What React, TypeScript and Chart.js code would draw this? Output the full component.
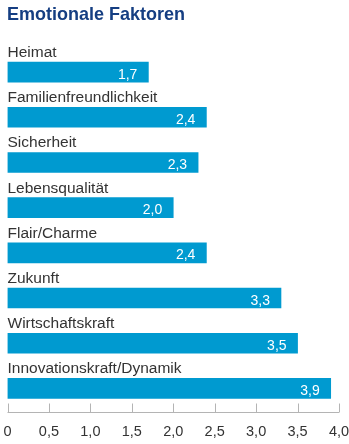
import React, { useEffect, useRef } from "react";
import { Chart, registerables } from "chart.js";

Chart.register(...registerables);

const title = "Emotionale Faktoren";
const categories = [
  "Heimat",
  "Familienfreundlichkeit",
  "Sicherheit",
  "Lebensqualität",
  "Flair/Charme",
  "Zukunft",
  "Wirtschaftskraft",
  "Innovationskraft/Dynamik",
];
const values = [1.7, 2.4, 2.3, 2.0, 2.4, 3.3, 3.5, 3.9];
const tickValues = [0, 0.5, 1, 1.5, 2, 2.5, 3, 3.5, 4];

const BAR_COLOR = "#009ad0";
const TITLE_COLOR = "#153e82";
const TEXT_COLOR = "#333333";
const AXIS_COLOR = "#b4b4b4";
const LABEL_FONT = '"Liberation Sans", Arial, sans-serif';

const fmt = (v: number) => (v === 0 ? "0" : v.toFixed(1).replace(".", ","));

const overlayPlugin = {
  id: "overlay",
  afterDatasetsDraw(chart: any) {
    const ctx = chart.ctx;
    const area = chart.chartArea;
    const meta = chart.getDatasetMeta(0);
    ctx.save();
    // title (condensed to match reference width)
    ctx.fillStyle = TITLE_COLOR;
    ctx.font = 'bold 19px "Liberation Sans", Arial, sans-serif';
    ctx.textAlign = "left";
    ctx.textBaseline = "alphabetic";
    const tw = ctx.measureText(title).width;
    const sx = 178 / tw;
    ctx.save();
    ctx.translate(7, 19.5);
    ctx.scale(sx, 1);
    ctx.fillText(title, 0, 0);
    ctx.restore();
    meta.data.forEach((bar: any, i: number) => {
      const top = bar.y - bar.height / 2;
      ctx.fillStyle = TEXT_COLOR;
      ctx.font = "15.5px " + LABEL_FONT;
      ctx.textAlign = "left";
      ctx.textBaseline = "alphabetic";
      ctx.fillText(categories[i], area.left, top - 5);
      ctx.fillStyle = "#ffffff";
      ctx.font = "14px " + LABEL_FONT;
      ctx.textAlign = "right";
      ctx.textBaseline = "alphabetic";
      ctx.fillText(fmt(values[i]), bar.x - 11, bar.y + 6.5);
    });
    // axis line, upward tick marks, tick labels
    const xs = chart.scales.x;
    const y = area.bottom + 1.5;
    ctx.strokeStyle = AXIS_COLOR;
    ctx.lineWidth = 1;
    ctx.beginPath();
    ctx.moveTo(xs.getPixelForValue(tickValues[0]), y);
    ctx.lineTo(xs.getPixelForValue(tickValues[tickValues.length - 1]), y);
    tickValues.forEach((v) => {
      const px = Math.round(xs.getPixelForValue(v)) + 0.5;
      ctx.moveTo(px, y);
      ctx.lineTo(px, y - 9);
    });
    ctx.stroke();
    ctx.fillStyle = TEXT_COLOR;
    ctx.font = "14.5px " + LABEL_FONT;
    ctx.textAlign = "center";
    ctx.textBaseline = "middle";
    tickValues.forEach((v) => {
      ctx.fillText(fmt(v), xs.getPixelForValue(v), 432);
    });
    ctx.restore();
  },
};

export default function App() {
  const ref = useRef<HTMLCanvasElement | null>(null);
  useEffect(() => {
    document.body.style.margin = "0";
    const chart = new Chart(ref.current as HTMLCanvasElement, {
      type: "bar",
      data: {
        labels: categories,
        datasets: [
          {
            data: values,
            backgroundColor: BAR_COLOR,
            borderWidth: 0,
            barThickness: 20,
          },
        ],
      },
      options: {
        indexAxis: "y",
        animation: false,
        responsive: false,
        layout: { padding: { top: 49.5, left: 7.5, right: 10, bottom: 33 } },
        plugins: { legend: { display: false }, tooltip: { enabled: false }, title: { display: false } },
        scales: {
          y: { display: false },
          x: {
            display: false,
            min: tickValues[0],
            max: tickValues[tickValues.length - 1],
          },
        },
      },
      plugins: [overlayPlugin],
    });
    return () => chart.destroy();
  }, []);
  return <canvas ref={ref} width={349} height={444} style={{ display: "block" }} />;
}
